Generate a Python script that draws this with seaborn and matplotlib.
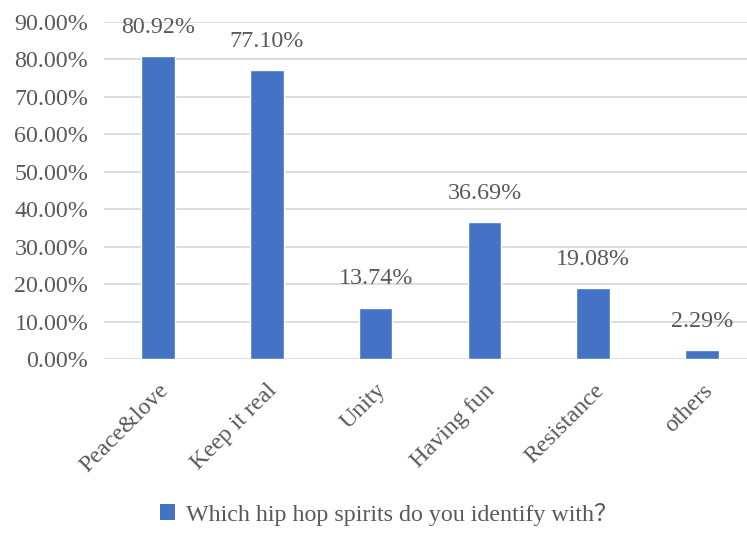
import matplotlib
matplotlib.use("Agg")
import matplotlib.pyplot as plt
import seaborn as sns
import pandas as pd
from matplotlib.patches import Patch

categories = ["Peace&love", "Keep it real", "Unity", "Having fun", "Resistance", "others"]
values = [80.92, 77.10, 13.74, 36.69, 19.08, 2.29]
series_name = "Which hip hop spirits do you identify with？"
y_ticks = [0, 10, 20, 30, 40, 50, 60, 70, 80, 90]

bar_color = "#4472C4"
text_color = "#595959"
grid_color = "#D9D9D9"
fs = 17.3

sns.set_theme(style="white")
plt.rcParams["font.family"] = ["Liberation Serif", "Noto Sans CJK SC", "DejaVu Serif"]

df = pd.DataFrame({"category": categories, "value": values})

W, H = 747, 535
fig = plt.figure(figsize=(W / 100, H / 100), dpi=100)
ax = fig.add_axes([103.6 / W, (H - 359) / H, 652.8 / W, 337 / H])

sns.barplot(data=df, x="category", y="value", color=bar_color, width=0.31,
            saturation=1, ax=ax, zorder=3)

ax.set_ylim(0, 90)
ax.set_xlim(-0.5, len(categories) - 0.5)
ax.set_yticks(y_ticks)
ax.set_yticklabels([f"{t:.2f}%" for t in y_ticks])
for t in y_ticks:
    ax.axhline(t, color=grid_color, lw=1.3, zorder=1)

for s in ax.spines.values():
    s.set_visible(False)
ax.tick_params(axis="both", length=0, colors=text_color, labelsize=fs)
ax.tick_params(axis="y", pad=11)
ax.tick_params(axis="x", pad=15)
ax.set_xlabel("")
ax.set_ylabel("")
for lbl in ax.get_xticklabels():
    lbl.set_rotation(45)
    lbl.set_ha("right")
    lbl.set_rotation_mode("anchor")

for i, v in enumerate(values):
    ax.annotate(f"{v:.2f}%", (i, v), xytext=(0, 13), textcoords="offset points",
                ha="center", va="bottom", fontsize=fs, color=text_color)

handle = Patch(facecolor=bar_color, edgecolor="none")
fig.legend([handle], [series_name], loc="center", bbox_to_anchor=(389 / W, 21 / H),
           frameon=False, fontsize=fs, labelcolor=text_color,
           handlelength=0.6, handleheight=0.6, handletextpad=0.45)

fig.savefig("out.png", dpi=100)
